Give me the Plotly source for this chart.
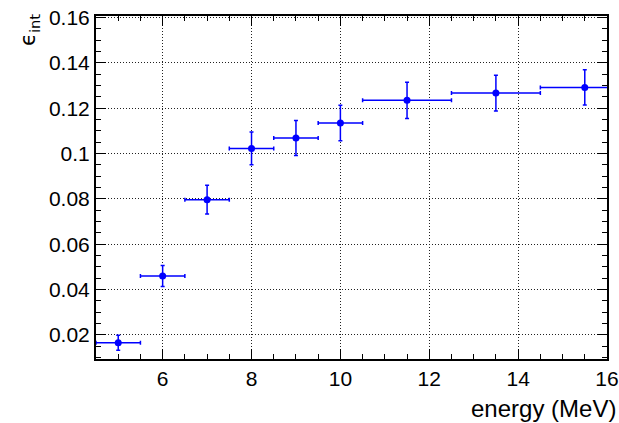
import plotly.graph_objects as go

energy = [5, 6, 7, 8, 9, 10, 11.5, 13.5, 15.5]
energy_err = [0.5, 0.5, 0.5, 0.5, 0.5, 0.5, 1.0, 1.0, 1.0]
eff = [0.0166, 0.0460, 0.0797, 0.1023, 0.1069, 0.1135, 0.1235, 0.1267, 0.1292]
eff_err = [0.0033, 0.0046, 0.0063, 0.0072, 0.0077, 0.0078, 0.0080, 0.0079, 0.0078]

x_ticks = [6, 8, 10, 12, 14, 16]
y_ticks = [0.02, 0.04, 0.06, 0.08, 0.1, 0.12, 0.14, 0.16]
y_tick_text = ["0.02", "0.04", "0.06", "0.08", "0.1", "0.12", "0.14", "0.16"]

font_family = "Liberation Sans, Arial, sans-serif"

fig = go.Figure()
fig.add_trace(go.Scatter(
    x=energy, y=eff, mode="markers",
    marker=dict(color="#0000ff", size=7),
    error_x=dict(type="data", array=energy_err, color="#0000ff", thickness=1.5, width=2),
    error_y=dict(type="data", array=eff_err, color="#0000ff", thickness=1.5, width=2),
    showlegend=False,
))

axis_common = dict(
    showline=True, linecolor="black", linewidth=2, mirror="allticks",
    ticks="inside", ticklen=10, tickwidth=1, tickcolor="black",
    showgrid=True, gridcolor="#222222", gridwidth=1, griddash="1px,2px",
    zeroline=False, automargin=False,
    tickfont=dict(family=font_family, size=21, color="black"),
)

fig.update_layout(
    width=619, height=423,
    margin=dict(l=96, r=12, t=16, b=64),
    paper_bgcolor="white", plot_bgcolor="white",
    font=dict(family=font_family, color="black"),
    xaxis=dict(range=[4.5, 16.0], tickvals=x_ticks, ticktext=[str(v) for v in x_ticks],
               minor=dict(ticks="inside", ticklen=5, tickcolor="black", dtick=0.5, tick0=0, showgrid=False),
               **axis_common),
    yaxis=dict(range=[0.0094, 0.1607], tickvals=y_ticks, ticktext=y_tick_text,
               minor=dict(ticks="inside", ticklen=5, tickcolor="black", dtick=0.005, tick0=0, showgrid=False),
               **axis_common),
    annotations=[
        dict(text="energy (MeV)", xref="paper", yref="paper", x=1.0215, y=-0.1,
             xanchor="right", yanchor="top", showarrow=False,
             font=dict(family=font_family, size=24, color="black")),
        dict(text="ϵ<sub>int</sub>", xref="paper", yref="paper", x=-0.131, y=1.012,
             xanchor="center", yanchor="top", textangle=-90, showarrow=False,
             font=dict(family="DejaVu Sans, sans-serif", size=21, color="black")),
    ],
)

fig.write_html("out.html", config={"displayModeBar": False},
               post_script="document.body.style.margin='0px';document.body.style.overflow='hidden';")
